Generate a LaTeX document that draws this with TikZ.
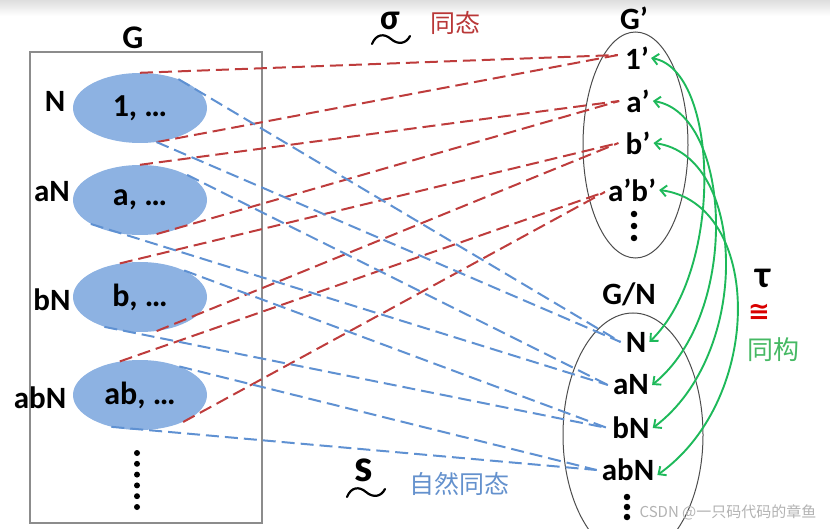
\documentclass[tikz,border=0pt]{standalone}
\usepackage{fontspec}
\setmainfont{Carlito}
\newfontfamily\cjk{Noto Sans CJK SC}
\newfontfamily\dvs{DejaVu Sans}
\usetikzlibrary{shapes.geometric,arrows.meta,calc}
\definecolor{hred}{RGB}{190,60,60}
\definecolor{hblue}{RGB}{95,145,210}
\definecolor{efill}{RGB}{141,178,226}
\definecolor{hgreen}{RGB}{30,185,90}
\definecolor{tgreen}{RGB}{70,185,100}
\definecolor{tblue}{RGB}{100,145,205}
\definecolor{tred}{RGB}{185,55,55}
\begin{document}
\begin{tikzpicture}[x=1pt,y=-1pt,
  lab/.style={font=\bfseries\fontsize{31}{32}\selectfont, inner sep=1pt},
  coset/.style={ellipse, fill=efill, minimum width=134, minimum height=70, inner sep=0pt, font=\bfseries\fontsize{32}{33}\selectfont},
  reddash/.style={draw=hred, line width=2, dash pattern=on 13pt off 6pt},
  bluedash/.style={draw=hblue, line width=2, dash pattern=on 13pt off 6pt},
  iso/.style={draw=hgreen, line width=1.9, {Straight Barb[length=6pt,width=11pt]}-{Straight Barb[length=6pt,width=11pt]}},
  bigdot/.style={circle, fill=black, inner sep=0pt, minimum size=6.5pt},
  setell/.style={draw=black!70, line width=1, ellipse, inner sep=0pt},
  wave/.style={line width=2.2, line cap=round}
]
\useasboundingbox (0,0) rectangle (830,529);
\fill[top color=black!13, bottom color=white] (0,0) rectangle (830,16);

% group G
\node[draw=black!45, line width=1.2, minimum width=232, minimum height=471, inner sep=0pt] (grect) at (146,287.5) {};
\node[lab, font=\bfseries\fontsize{33}{34}\selectfont] (lg) at (133,38) {G};

% G' and G/N sets
\node[setell, minimum width=105, minimum height=226] (gp) at (635.5,145) {};
\node[setell, minimum width=140, minimum height=244] (gn) at (633,435) {};
\node[lab] (lgp) at (634,18) {G’};
\node[lab] (lgn) at (629,294) {G/N};

% G' elements
\node[lab] (p1) at (637,58) {1’};
\node[lab] (p2) at (638,101) {a’};
\node[lab] (p3) at (638,143) {b’};
\node[lab] (p4) at (632,190) {a’b’};
\foreach \i/\y in {1/214,2/226,3/238} \node[bigdot] (gpd\i) at (634,\y) {};

% G/N elements
\node[lab] (q1) at (636,342) {N};
\node[lab] (q2) at (631,385) {aN};
\node[lab] (q3) at (631,428) {bN};
\node[lab] (q4) at (628,470) {abN};
\foreach \i/\y in {1/497,2/507,3/517} \node[bigdot] (gnd\i) at (627,\y) {};

% cosets
\node[coset] (e1) at (140,108) {1, …};
\node[coset] (e2) at (140,200) {a, …};
\node[coset] (e3) at (140,297) {b, …};
\node[coset] (e4) at (140,395) {ab, …};
\node[lab] (l1) at (55,101) {N};
\node[lab] (l2) at (52,192) {aN};
\node[lab] (l3) at (52,300) {bN};
\node[lab] (l4) at (40,398) {abN};
\foreach \i in {0,...,5} \node[bigdot, minimum size=6pt] (gd\i) at (137,453+\i*10.8) {};

% sigma: homomorphism
\draw[reddash] (e1.north) -- ($(p1.west)+(-6,-3)$);
\draw[reddash] (e1.-64) -- ($(p1.west)+(-6,-3)$);
\draw[reddash] (e2.north) -- ($(p2.west)+(-6,0)$);
\draw[reddash] (e2.-64) -- ($(p2.west)+(-6,0)$);
\draw[reddash] (e3.121) -- ($(p3.west)+(-6,0)$);
\draw[reddash] (e3.-64) -- ($(p3.west)+(-6,0)$);
\draw[reddash] (e4.121) -- ($(p4.west)+(-2,2)$);
\draw[reddash] (e4.-32) -- ($(p4.west)+(-2,2)$);

% s: natural homomorphism
\draw[bluedash] (e1.37) -- ($(q1.west)+(-4,0)$);
\draw[bluedash] (e1.-64) -- ($(q1.west)+(-4,0)$);
\draw[bluedash] (e2.28) -- ($(q2.west)+(-4,0)$);
\draw[bluedash] (e2.206) -- ($(q2.west)+(-4,0)$);
\draw[bluedash] (e3.31) -- ($(q3.west)+(-4,0)$);
\draw[bluedash] (e3.220) -- ($(q3.west)+(-4,0)$);
\draw[bluedash] (e4.36) -- ($(q4.west)+(-4,0)$);
\draw[bluedash] (e4.228) -- ($(q4.west)+(-4,0)$);

% tau: isomorphism
\draw[iso] ($(p1.east)+(1,0)$) .. controls +(68,12) and +(75,-73) .. ($(q1.east)+(2,0)$);
\draw[iso] ($(p2.east)+(2,0)$) .. controls +(78,12) and +(90,-73) .. ($(q2.east)+(2,0)$);
\draw[iso] ($(p3.east)+(2,0)$) .. controls +(93,12) and +(100,-75) .. ($(q3.east)+(2,0)$);
\draw[iso] ($(p4.east)+(2,0)$) .. controls +(103,13) and +(108,-77) .. ($(q4.east)+(2,5)$);

% labels of maps
\node[font=\bfseries\fontsize{36}{36}\selectfont, inner sep=0pt] (sig) at (390,21) {σ};
\draw[wave] (372,44) .. controls (376,34) and (384,33) .. (391,39) .. controls (398,45) and (406,44) .. (410,36);
\node[font=\cjk\fontsize{25}{25}\selectfont, text=tred, inner sep=0pt] (hom) at (455,23) {同态};

\node[font=\bfseries\fontsize{46}{46}\selectfont, inner sep=0pt] (sm) at (364,470) {s};
\draw[wave] (347,497) .. controls (351,487) and (359,486) .. (366,492) .. controls (373,498) and (381,497) .. (385,489);
\node[font=\cjk\fontsize{25}{25}\selectfont, text=tblue, inner sep=0pt] (nat) at (459,484) {自然同态};

\node[font=\bfseries\fontsize{38}{38}\selectfont, inner sep=0pt] (tau) at (763,278) {τ};
\node[font=\dvs\bfseries\fontsize{26}{26}\selectfont, text=red!85!black, inner sep=0pt] (cong) at (759,312) {≅};
\node[font=\cjk\fontsize{26}{26}\selectfont, text=tgreen, inner sep=0pt] (isot) at (773,350) {同构};

\node[font=\cjk\fontsize{15}{15}\selectfont, text=black!30, inner sep=0pt] (wm) at (728,512) {CSDN @一只码代码的章鱼};
\end{tikzpicture}
\end{document}
